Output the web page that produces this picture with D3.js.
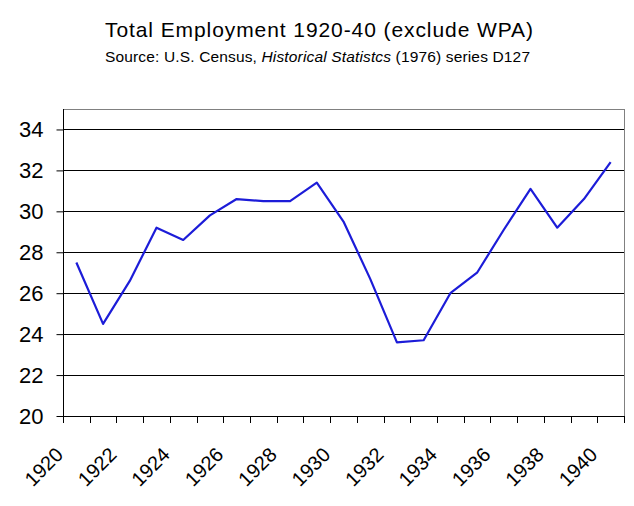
<!DOCTYPE html>
<html>
<head>
<meta charset="utf-8">
<script src="https://cdn.jsdelivr.net/npm/d3@7"></script>
<style>
  body { margin: 0; background: #fff; }
  text { font-family: Arial, "Liberation Sans", sans-serif; }
</style>
</head>
<body>
<div id="chart"></div>
<script>
// data
var years = d3.range(1920, 1941);
var employment = [27.5, 24.5, 26.6, 29.2, 28.6, 29.8, 30.6, 30.5, 30.5, 31.4,
                  29.5, 26.7, 23.6, 23.7, 26.0, 27.0, 29.1, 31.1, 29.2, 30.6, 32.4];
var yTicks = [20, 22, 24, 26, 28, 30, 32, 34];
var xLabels = [1920, 1922, 1924, 1926, 1928, 1930, 1932, 1934, 1936, 1938, 1940];

var W = 634, H = 506;
var pL = 63, pR = 624, pT = 109, pB = 416;

var svg = d3.select("#chart").append("svg")
  .attr("width", W).attr("height", H);

// titles
svg.append("text").attr("x", 105).attr("y", 37)
  .attr("font-size", 21).attr("textLength", 428).attr("lengthAdjust", "spacing")
  .text("Total Employment 1920-40 (exclude WPA)");

var sub = svg.append("text").attr("x", 105).attr("y", 62)
  .attr("font-size", 15.5).attr("textLength", 425).attr("lengthAdjust", "spacing");
sub.append("tspan").text("Source: U.S. Census, ");
sub.append("tspan").attr("font-style", "italic").text("Historical Statistcs");
sub.append("tspan").text("  (1976) series D127");

// scales
var x = d3.scaleBand().domain(years).range([pL, pR]);
var y = d3.scaleLinear().domain([20, 35]).range([pB, pT]);

// plot frame (top/right grey)
svg.append("rect").attr("x", pL + 0.5).attr("y", pT + 0.5)
  .attr("width", pR - pL).attr("height", pB - pT)
  .attr("fill", "none").attr("stroke", "#808080").attr("stroke-width", 1);

// gridlines
svg.append("g").selectAll("line").data(yTicks.filter(d => d > 20)).join("line")
  .attr("x1", pL).attr("x2", pR)
  .attr("y1", d => Math.round(y(d)) + 0.5).attr("y2", d => Math.round(y(d)) + 0.5)
  .attr("stroke", "#000");

// y axis
var yAxis = svg.append("g").attr("transform", "translate(" + (pL + 0.5) + ",0)")
  .call(d3.axisLeft(y).tickValues(yTicks).tickSize(7).tickPadding(13).tickFormat(d3.format("d")));
yAxis.selectAll("text").attr("font-size", 22).attr("fill", "#000")
  .attr("font-family", "Arial, 'Liberation Sans', sans-serif");
yAxis.selectAll("line, path").attr("stroke", "#000");
yAxis.select(".domain").attr("d", "M0," + pT + "V" + (pB + 1));

// x axis: ticks at band edges
var xg = svg.append("g");
xg.append("line").attr("x1", pL).attr("x2", pR + 1)
  .attr("y1", pB + 0.5).attr("y2", pB + 0.5).attr("stroke", "#000");
var edges = years.map(d => x(d)).concat([pR]);
xg.selectAll("line.tk").data(edges).join("line").attr("class", "tk")
  .attr("x1", d => Math.round(d) + 0.5).attr("x2", d => Math.round(d) + 0.5)
  .attr("y1", pB).attr("y2", pB + 7).attr("stroke", "#000");
xg.selectAll("text").data(xLabels).join("text")
  .attr("transform", d => "translate(" + (x(d) + x.bandwidth() / 2 - 12) + "," + (pB + 40) + ") rotate(-45)")
  .attr("text-anchor", "end").attr("font-size", 20).text(d => d);

// line
var line = d3.line().x((d, i) => x(years[i]) + x.bandwidth() / 2).y(d => y(d));
svg.append("path").datum(employment).attr("d", line)
  .attr("fill", "none").attr("stroke", "#1c1cd8").attr("stroke-width", 2.2)
  .attr("stroke-linejoin", "round");
</script>
</body>
</html>
